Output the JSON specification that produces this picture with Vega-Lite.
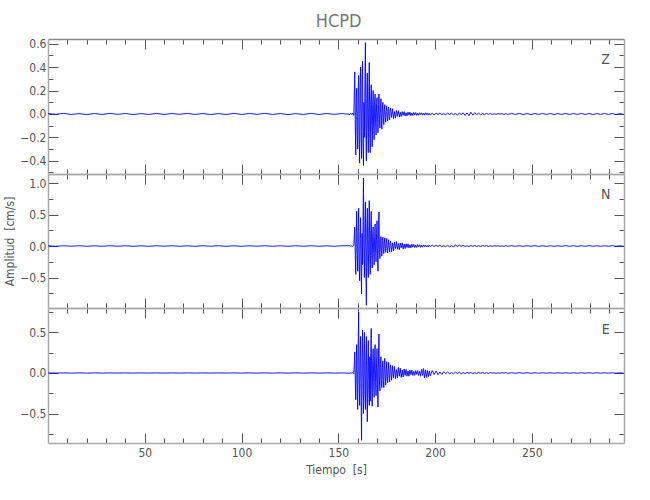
{
  "$schema": "https://vega.github.io/schema/vega-lite/v6.json",
  "background": "white",
  "padding": {"left": 3, "top": 12, "right": 5, "bottom": 5},
  "title": {"text": "HCPD", "fontSize": 18, "font": "DejaVu Sans Condensed, DejaVu Sans", "color": "#777777", "fontWeight": "normal", "offset": 7, "anchor": "middle", "dx": 24},
  "spacing": 0,
  "bounds": "flush",
  "datasets": {
    "s": [
      {"t":0,"z":0.004,"n":0.003,"e":0.001},{"t":4,"z":-0.003,"n":-0.004,"e":-0.001},{"t":8,"z":0.005,"n":0.004,"e":0.001},{"t":12,"z":-0.004,"n":-0.003,"e":-0.001},
      {"t":16,"z":0.003,"n":0.004,"e":0.001},{"t":20,"z":-0.005,"n":-0.004,"e":-0.001},{"t":24,"z":0.004,"n":0.003,"e":0.001},{"t":28,"z":-0.004,"n":-0.004,"e":-0.001},
      {"t":32,"z":0.005,"n":0.004,"e":0.001},{"t":36,"z":-0.003,"n":-0.003,"e":-0.001},{"t":40,"z":0.004,"n":0.004,"e":0.001},{"t":44,"z":-0.005,"n":-0.004,"e":-0.001},
      {"t":48,"z":0.003,"n":0.003,"e":0.001},{"t":52,"z":-0.004,"n":-0.004,"e":-0.001},{"t":56,"z":0.005,"n":0.004,"e":0.001},{"t":60,"z":-0.004,"n":-0.003,"e":-0.001},
      {"t":64,"z":0.004,"n":0.004,"e":0.001},{"t":68,"z":-0.003,"n":-0.004,"e":-0.001},{"t":72,"z":0.005,"n":0.003,"e":0.001},{"t":76,"z":-0.004,"n":-0.004,"e":-0.001},
      {"t":80,"z":0.004,"n":0.004,"e":0.001},{"t":84,"z":-0.005,"n":-0.003,"e":-0.001},{"t":88,"z":0.003,"n":0.004,"e":0.001},{"t":92,"z":-0.004,"n":-0.004,"e":-0.001},
      {"t":96,"z":0.005,"n":0.003,"e":0.001},{"t":100,"z":-0.004,"n":-0.004,"e":-0.001},{"t":104,"z":0.004,"n":0.004,"e":0.001},{"t":108,"z":-0.003,"n":-0.003,"e":-0.001},
      {"t":112,"z":0.005,"n":0.004,"e":0.001},{"t":116,"z":-0.004,"n":-0.004,"e":-0.001},{"t":120,"z":0.004,"n":0.003,"e":0.001},{"t":124,"z":-0.005,"n":-0.004,"e":-0.001},
      {"t":128,"z":0.003,"n":0.004,"e":0.001},{"t":132,"z":-0.004,"n":-0.003,"e":-0.001},{"t":136,"z":0.005,"n":0.004,"e":0.001},{"t":140,"z":-0.004,"n":-0.004,"e":-0.001},
      {"t":144,"z":0.004,"n":0.003,"e":0.001},{"t":148,"z":-0.003,"n":-0.004,"e":-0.001},{"t":152,"z":0.004,"n":0.004,"e":0.001},
      {"t":156,"z":-0.005,"n":0.004,"e":-0.003},{"t":156.5,"z":0.006,"n":-0.005,"e":0.003},{"t":157,"z":-0.005,"n":0.006,"e":-0.004},{"t":157.5,"z":0.008,"n":-0.008,"e":0.005},
      {"t":158,"z":-0.012,"n":0.012,"e":-0.008},
      {"t":158.5,"z":0.36,"n":0.30,"e":0.26},{"t":158.75,"z":-0.10,"n":-0.15,"e":-0.08},{"t":159,"z":-0.35,"n":-0.45,"e":-0.33},{"t":159.25,"z":0.12,"n":0.20,"e":0.10},
      {"t":159.5,"z":0.22,"n":0.55,"e":0.35},{"t":159.75,"z":-0.15,"n":-0.12,"e":-0.20},{"t":160,"z":-0.30,"n":-0.40,"e":-0.45},{"t":160.25,"z":0.18,"n":0.25,"e":0.30},
      {"t":160.5,"z":0.33,"n":0.60,"e":0.75},{"t":160.75,"z":-0.20,"n":-0.30,"e":-0.15},{"t":161,"z":-0.42,"n":-0.55,"e":-0.40},{"t":161.25,"z":0.25,"n":0.10,"e":0.20},
      {"t":161.5,"z":0.40,"n":0.45,"e":0.45},{"t":161.75,"z":-0.15,"n":-0.35,"e":-0.30},{"t":162,"z":-0.38,"n":-0.76,"e":-0.83},{"t":162.25,"z":0.30,"n":0.20,"e":0.25},
      {"t":162.5,"z":0.45,"n":-0.30,"e":0.53},{"t":162.75,"z":-0.25,"n":0.40,"e":-0.20},{"t":163,"z":-0.44,"n":1.08,"e":-0.50},{"t":163.25,"z":0.10,"n":-0.20,"e":0.30},
      {"t":163.5,"z":-0.20,"n":-0.50,"e":0.50},{"t":163.75,"z":0.30,"n":0.35,"e":-0.25},{"t":164,"z":0.61,"n":0.70,"e":-0.45},{"t":164.25,"z":-0.15,"n":-0.40,"e":0.20},
      {"t":164.5,"z":-0.40,"n":-0.94,"e":0.45},{"t":164.75,"z":0.20,"n":0.30,"e":-0.30},{"t":165,"z":0.35,"n":0.60,"e":-0.60},{"t":165.25,"z":-0.12,"n":-0.25,"e":0.15},
      {"t":165.5,"z":-0.33,"n":-0.50,"e":0.40},{"t":165.75,"z":0.18,"n":0.30,"e":-0.20},{"t":166,"z":0.44,"n":0.72,"e":-0.40},{"t":166.25,"z":-0.15,"n":-0.20,"e":0.20},
      {"t":166.5,"z":-0.33,"n":-0.45,"e":-0.35},{"t":166.75,"z":0.12,"n":0.25,"e":0.25},{"t":167,"z":0.25,"n":0.55,"e":0.55},{"t":167.25,"z":-0.10,"n":-0.15,"e":-0.20},
      {"t":167.5,"z":-0.28,"n":-0.35,"e":-0.41},{"t":167.75,"z":0.08,"n":0.20,"e":0.15},{"t":168,"z":0.20,"n":0.30,"e":0.30},{"t":168.25,"z":-0.12,"n":-0.12,"e":-0.10},
      {"t":168.5,"z":-0.22,"n":-0.30,"e":-0.30},{"t":168.75,"z":0.10,"n":0.15,"e":0.20},{"t":169,"z":0.17,"n":0.35,"e":0.35},{"t":169.25,"z":-0.06,"n":-0.10,"e":-0.12},
      {"t":169.5,"z":-0.18,"n":-0.25,"e":-0.28},{"t":169.75,"z":0.09,"n":0.20,"e":0.10},{"t":170,"z":0.14,"n":0.40,"e":0.30},{"t":170.25,"z":-0.05,"n":-0.15,"e":-0.20},
      {"t":170.5,"z":-0.16,"n":-0.40,"e":-0.42},{"t":170.75,"z":0.08,"n":0.25,"e":0.20},{"t":171,"z":0.17,"n":0.54,"e":0.48},{"t":171.25,"z":-0.05,"n":-0.10,"e":-0.10},
      {"t":171.5,"z":-0.12,"n":-0.20,"e":-0.22},{"t":171.75,"z":0.06,"n":0.08,"e":0.12},{"t":172,"z":0.13,"n":0.15,"e":0.20},{"t":172.25,"z":-0.04,"n":-0.07,"e":-0.08},
      {"t":172.5,"z":-0.13,"n":-0.16,"e":-0.18},{"t":172.75,"z":0.05,"n":0.09,"e":0.07},{"t":173,"z":0.10,"n":0.14,"e":0.15},{"t":173.25,"z":-0.03,"n":-0.06,"e":-0.09},
      {"t":173.5,"z":-0.09,"n":-0.12,"e":-0.18},{"t":173.75,"z":0.04,"n":0.05,"e":0.10},{"t":174,"z":0.08,"n":0.13,"e":0.18},{"t":174.25,"z":-0.03,"n":-0.04,"e":-0.06},
      {"t":174.5,"z":-0.07,"n":-0.10,"e":-0.15},{"t":174.75,"z":0.03,"n":0.06,"e":0.05},{"t":175,"z":0.07,"n":0.12,"e":0.14},{"t":175.25,"z":-0.02,"n":-0.05,"e":-0.07},
      {"t":175.5,"z":-0.06,"n":-0.11,"e":-0.12},{"t":175.75,"z":0.025,"n":0.04,"e":0.06},{"t":176,"z":0.06,"n":0.10,"e":0.13},{"t":176.25,"z":-0.02,"n":-0.03,"e":-0.05},
      {"t":176.5,"z":-0.05,"n":-0.09,"e":-0.11},{"t":176.75,"z":0.02,"n":0.04,"e":0.04},{"t":177,"z":0.05,"n":0.08,"e":0.10},
      {"t":177.5,"z":-0.03,"n":-0.09,"e":-0.09},{"t":178,"z":0.045,"n":0.05,"e":0.09},{"t":178.5,"z":-0.04,"n":-0.08,"e":-0.06},{"t":179,"z":0.02,"n":0.06,"e":0.08},
      {"t":179.5,"z":-0.035,"n":-0.04,"e":-0.07},{"t":180,"z":0.03,"n":0.07,"e":0.04},{"t":180.5,"z":-0.02,"n":-0.05,"e":-0.06},{"t":181,"z":0.028,"n":0.04,"e":0.07},
      {"t":181.5,"z":-0.025,"n":-0.06,"e":-0.04},{"t":182,"z":0.015,"n":0.045,"e":0.06},{"t":182.5,"z":-0.022,"n":-0.03,"e":-0.055},{"t":183,"z":0.02,"n":0.05,"e":0.035},
      {"t":183.5,"z":-0.012,"n":-0.045,"e":-0.05},{"t":184,"z":0.02,"n":0.03,"e":0.05},{"t":184.5,"z":-0.018,"n":-0.04,"e":-0.03},{"t":185,"z":0.01,"n":0.035,"e":0.045},
      {"t":185.5,"z":-0.016,"n":-0.025,"e":-0.04},{"t":186,"z":0.016,"n":0.035,"e":0.025},{"t":186.5,"z":-0.01,"n":-0.03,"e":-0.04},{"t":187,"z":0.015,"n":0.02,"e":0.035},
      {"t":187.5,"z":-0.014,"n":-0.03,"e":-0.02},{"t":188,"z":0.008,"n":0.028,"e":0.035},{"t":188.5,"z":-0.013,"n":-0.018,"e":-0.03},{"t":189,"z":0.013,"n":0.025,"e":0.02},
      {"t":189.5,"z":-0.008,"n":-0.025,"e":-0.03},{"t":190,"z":0.012,"n":0.015,"e":0.03},{"t":190.5,"z":-0.012,"n":-0.022,"e":-0.018},{"t":191,"z":0.007,"n":0.022,"e":0.03},
      {"t":191.5,"z":-0.011,"n":-0.014,"e":-0.03},{"t":192,"z":0.011,"n":0.02,"e":0.02},{"t":192.5,"z":-0.006,"n":-0.02,"e":-0.04},{"t":193,"z":0.01,"n":0.012,"e":0.045},
      {"t":193.5,"z":-0.01,"n":-0.018,"e":-0.03},{"t":194,"z":0.006,"n":0.018,"e":0.055},{"t":194.5,"z":-0.01,"n":-0.01,"e":-0.06},{"t":195,"z":0.01,"n":0.016,"e":0.04},
      {"t":195.5,"z":-0.006,"n":-0.016,"e":-0.055},{"t":196,"z":0.009,"n":0.01,"e":0.03},{"t":196.5,"z":-0.009,"n":-0.015,"e":-0.045},{"t":197,"z":0.005,"n":0.015,"e":0.025},
      {"t":197.5,"z":-0.009,"n":-0.009,"e":-0.035},
      {"t":198.5,"z":0.006,"n":0.014,"e":0.03},{"t":199.5,"z":-0.009,"n":-0.009,"e":-0.018},{"t":200.5,"z":0.008,"n":0.013,"e":0.025},{"t":201.5,"z":-0.005,"n":-0.008,"e":-0.022},
      {"t":202.5,"z":0.008,"n":0.013,"e":0.012},{"t":203.5,"z":-0.007,"n":-0.012,"e":-0.018},{"t":204.5,"z":0.004,"n":0.007,"e":0.016},{"t":205.5,"z":-0.007,"n":-0.012,"e":-0.009},
      {"t":206.5,"z":0.007,"n":0.013,"e":0.014},{"t":207.5,"z":-0.005,"n":-0.015,"e":-0.013},{"t":208.5,"z":0.007,"n":0.011,"e":0.008},{"t":209.5,"z":-0.007,"n":-0.02,"e":-0.012},
      {"t":210.5,"z":0.004,"n":0.022,"e":0.011},{"t":211.5,"z":-0.008,"n":-0.012,"e":-0.007},{"t":212.5,"z":0.008,"n":0.015,"e":0.01},{"t":213.5,"z":-0.005,"n":-0.008,"e":-0.01},
      {"t":214.5,"z":0.01,"n":0.011,"e":0.006},{"t":215.5,"z":-0.012,"n":-0.01,"e":-0.009},{"t":216.5,"z":0.009,"n":0.006,"e":0.009},{"t":217.5,"z":-0.015,"n":-0.01,"e":-0.006},
      {"t":218.5,"z":0.015,"n":0.009,"e":0.008},{"t":219.5,"z":-0.01,"n":-0.005,"e":-0.008},{"t":220.5,"z":0.011,"n":0.009,"e":0.005},{"t":221.5,"z":-0.006,"n":-0.008,"e":-0.007},
      {"t":222.5,"z":0.008,"n":0.005,"e":0.007},{"t":223.5,"z":-0.007,"n":-0.008,"e":-0.004},{"t":224.5,"z":0.004,"n":0.008,"e":0.007},{"t":225.5,"z":-0.006,"n":-0.005,"e":-0.006},
      {"t":226.5,"z":0.006,"n":0.007,"e":0.004},{"t":227.5,"z":-0.004,"n":-0.007,"e":-0.006},{"t":228.5,"z":0.006,"n":0.004,"e":0.006},{"t":229.5,"z":-0.006,"n":-0.007,"e":-0.004},
      {"t":230.5,"z":0.004,"n":0.006,"e":0.005},{"t":231.5,"z":-0.005,"n":-0.004,"e":-0.005},{"t":232.5,"z":0.005,"n":0.006,"e":0.003},{"t":233.5,"z":-0.003,"n":-0.006,"e":-0.005},
      {"t":234.5,"z":0.005,"n":0.004,"e":0.005},{"t":235.5,"z":-0.005,"n":-0.006,"e":-0.003},{"t":236.5,"z":0.003,"n":0.006,"e":0.005},{"t":237.5,"z":-0.005,"n":-0.004,"e":-0.004},
      {"t":239.5,"z":0.005,"n":0.005,"e":0.003},{"t":241.5,"z":-0.004,"n":-0.005,"e":-0.003},{"t":243.5,"z":0.005,"n":0.004,"e":0.003},{"t":245.5,"z":-0.005,"n":-0.005,"e":-0.003},
      {"t":247.5,"z":0.004,"n":0.005,"e":0.003},{"t":249.5,"z":-0.005,"n":-0.004,"e":-0.003},{"t":251.5,"z":0.004,"n":0.005,"e":0.002},{"t":253.5,"z":-0.004,"n":-0.005,"e":-0.002},
      {"t":255.5,"z":0.005,"n":0.004,"e":0.002},{"t":257.5,"z":-0.004,"n":-0.005,"e":-0.002},{"t":259.5,"z":0.004,"n":0.004,"e":0.002},{"t":261.5,"z":-0.005,"n":-0.005,"e":-0.002},
      {"t":263.5,"z":0.004,"n":0.004,"e":0.002},{"t":265.5,"z":-0.004,"n":-0.004,"e":-0.002},{"t":267.5,"z":0.005,"n":0.005,"e":0.002},{"t":269.5,"z":-0.004,"n":-0.004,"e":-0.002},
      {"t":271.5,"z":0.004,"n":0.004,"e":0.002},{"t":273.5,"z":-0.004,"n":-0.005,"e":-0.002},{"t":275.5,"z":0.005,"n":0.004,"e":0.002},{"t":277.5,"z":-0.004,"n":-0.004,"e":-0.002},
      {"t":279.5,"z":0.004,"n":0.005,"e":0.002},{"t":281.5,"z":-0.005,"n":-0.004,"e":-0.002},{"t":283.5,"z":0.004,"n":0.004,"e":0.002},{"t":285.5,"z":-0.004,"n":-0.005,"e":-0.002},
      {"t":287.5,"z":0.005,"n":0.004,"e":0.002},{"t":289.5,"z":-0.004,"n":-0.004,"e":-0.002},{"t":291.5,"z":0.004,"n":0.005,"e":0.002},{"t":293.5,"z":-0.005,"n":-0.004,"e":-0.002},
      {"t":295.5,"z":0.004,"n":0.004,"e":0.002},{"t":297.5,"z":-0.004,"n":-0.005,"e":-0.002}
    ]
  },
  "vconcat": [
    {
      "width": 576, "height": 135,
      "layer": [
        {
          "data": {"name": "s"},
          "mark": {"type": "line", "stroke": "#0000ff", "strokeWidth": 0.9},
          "encoding": {
            "x": {"field": "t", "type": "quantitative", "scale": {"domain": [0, 297.6], "nice": false, "zero": false},
              "axis": {"orient": "bottom", "values": [10,20,30,40,50,60,70,80,90,100,110,120,130,140,150,160,170,180,190,200,210,220,230,240,250,260,270,280,290], "labels": false, "title": null,
                "encoding": {"ticks": {"y2": {"condition": {"test": "datum.value % 50 === 0", "value": -10}, "value": -5}}}}},
            "y": {"field": "z", "type": "quantitative", "scale": {"domain": [-0.513, 0.641], "nice": false, "zero": false},
              "axis": {"orient": "left", "values": [-0.5,-0.4,-0.3,-0.2,-0.1,0,0.1,0.2,0.3,0.4,0.5,0.6], "format": ".1f", "title": null,
                "labelExpr": "abs(round(datum.value*100)) % 20 === 0 ? datum.label : ''",
                "encoding": {"ticks": {"x2": {"condition": {"test": "abs(round(datum.value*100)) % 20 === 0", "value": 10}, "value": 5}}}}}
          }
        },
        {
          "data": {"values": [{"t": 288.1, "v": 0.46, "c": "Z"}]},
          "mark": {"type": "text", "fontSize": 14, "color": "#555555", "baseline": "middle", "align": "center"},
          "encoding": {
            "x": {"field": "t", "type": "quantitative", "scale": {"domain": [0, 297.6], "nice": false, "zero": false},
              "axis": {"orient": "top", "values": [10,20,30,40,50,60,70,80,90,100,110,120,130,140,150,160,170,180,190,200,210,220,230,240,250,260,270,280,290], "labels": false, "title": null, "domainColor": "#888888",
                "encoding": {"ticks": {"y2": {"condition": {"test": "datum.value % 50 === 0", "value": 10}, "value": 5}}}}},
            "y": {"field": "v", "type": "quantitative", "scale": {"domain": [-0.513, 0.641], "nice": false, "zero": false},
              "axis": {"orient": "right", "values": [-0.5,-0.4,-0.3,-0.2,-0.1,0,0.1,0.2,0.3,0.4,0.5,0.6], "labels": false, "title": null,
                "encoding": {"ticks": {"x2": {"condition": {"test": "abs(round(datum.value*100)) % 20 === 0", "value": -10}, "value": -5}}}}},
            "text": {"field": "c"}
          }
        }
      ],
      "resolve": {"scale": {"x": "independent", "y": "independent"}, "axis": {"x": "independent", "y": "independent"}}
    },
    {
      "width": 576, "height": 134,
      "layer": [
        {
          "data": {"name": "s"},
          "mark": {"type": "line", "stroke": "#0000ff", "strokeWidth": 0.9},
          "encoding": {
            "x": {"field": "t", "type": "quantitative", "scale": {"domain": [0, 297.6], "nice": false, "zero": false},
              "axis": {"orient": "bottom", "values": [10,20,30,40,50,60,70,80,90,100,110,120,130,140,150,160,170,180,190,200,210,220,230,240,250,260,270,280,290], "labels": false, "title": null,
                "encoding": {"ticks": {"y2": {"condition": {"test": "datum.value % 50 === 0", "value": -10}, "value": -5}}}}},
            "y": {"field": "n", "type": "quantitative", "scale": {"domain": [-0.984, 1.143], "nice": false, "zero": false},
              "axis": {"orient": "left", "values": [-0.75,-0.5,-0.25,0,0.25,0.5,0.75,1.0], "format": ".1f", "title": "Amplitud\u00a0 [cm/s]", "titlePadding": 3,
                "labelExpr": "abs(round(datum.value*100)) % 50 === 0 ? datum.label : ''",
                "encoding": {"ticks": {"x2": {"condition": {"test": "abs(round(datum.value*100)) % 50 === 0", "value": 10}, "value": 5}}}}}
          }
        },
        {
          "data": {"values": [{"t": 288.1, "v": 0.81, "c": "N"}]},
          "mark": {"type": "text", "fontSize": 14, "color": "#555555", "baseline": "middle", "align": "center"},
          "encoding": {
            "x": {"field": "t", "type": "quantitative", "scale": {"domain": [0, 297.6], "nice": false, "zero": false},
              "axis": {"orient": "top", "values": [10,20,30,40,50,60,70,80,90,100,110,120,130,140,150,160,170,180,190,200,210,220,230,240,250,260,270,280,290], "labels": false, "title": null,
                "encoding": {"ticks": {"y2": {"condition": {"test": "datum.value % 50 === 0", "value": 10}, "value": 5}}}}},
            "y": {"field": "v", "type": "quantitative", "scale": {"domain": [-0.984, 1.143], "nice": false, "zero": false},
              "axis": {"orient": "right", "values": [-0.75,-0.5,-0.25,0,0.25,0.5,0.75,1.0], "labels": false, "title": null,
                "encoding": {"ticks": {"x2": {"condition": {"test": "abs(round(datum.value*100)) % 50 === 0", "value": -10}, "value": -5}}}}},
            "text": {"field": "c"}
          }
        }
      ],
      "resolve": {"scale": {"x": "independent", "y": "independent"}, "axis": {"x": "independent", "y": "independent"}}
    },
    {
      "width": 576, "height": 135,
      "layer": [
        {
          "data": {"name": "s"},
          "mark": {"type": "line", "stroke": "#0000ff", "strokeWidth": 0.9},
          "encoding": {
            "x": {"field": "t", "type": "quantitative", "scale": {"domain": [0, 297.6], "nice": false, "zero": false},
              "axis": {"orient": "bottom", "values": [10,20,30,40,50,60,70,80,90,100,110,120,130,140,150,160,170,180,190,200,210,220,230,240,250,260,270,280,290], "format": "d", "labelPadding": 4,
                "labelExpr": "datum.value % 50 === 0 ? datum.label : ''", "title": "Tiempo\u00a0 [s]", "titlePadding": 6,
                "encoding": {"ticks": {"y2": {"condition": {"test": "datum.value % 50 === 0", "value": -10}, "value": -5}}}}},
            "y": {"field": "e", "type": "quantitative", "scale": {"domain": [-0.864, 0.802], "nice": false, "zero": false},
              "axis": {"orient": "left", "values": [-0.75,-0.5,-0.25,0,0.25,0.5,0.75], "format": ".1f", "title": null,
                "labelExpr": "abs(round(datum.value*100)) % 50 === 0 ? datum.label : ''",
                "encoding": {"ticks": {"x2": {"condition": {"test": "abs(round(datum.value*100)) % 50 === 0", "value": 10}, "value": 5}}}}}
          }
        },
        {
          "data": {"values": [{"t": 288.1, "v": 0.53, "c": "E"}]},
          "mark": {"type": "text", "fontSize": 14, "color": "#555555", "baseline": "middle", "align": "center"},
          "encoding": {
            "x": {"field": "t", "type": "quantitative", "scale": {"domain": [0, 297.6], "nice": false, "zero": false},
              "axis": {"orient": "top", "values": [10,20,30,40,50,60,70,80,90,100,110,120,130,140,150,160,170,180,190,200,210,220,230,240,250,260,270,280,290], "labels": false, "title": null,
                "encoding": {"ticks": {"y2": {"condition": {"test": "datum.value % 50 === 0", "value": 10}, "value": 5}}}}},
            "y": {"field": "v", "type": "quantitative", "scale": {"domain": [-0.864, 0.802], "nice": false, "zero": false},
              "axis": {"orient": "right", "values": [-0.75,-0.5,-0.25,0,0.25,0.5,0.75], "labels": false, "title": null,
                "encoding": {"ticks": {"x2": {"condition": {"test": "abs(round(datum.value*100)) % 50 === 0", "value": -10}, "value": -5}}}}},
            "text": {"field": "c"}
          }
        }
      ],
      "resolve": {"scale": {"x": "independent", "y": "independent"}, "axis": {"x": "independent", "y": "independent"}}
    }
  ],
  "config": {
    "view": {"stroke": null},
    "font": "DejaVu Sans Condensed, DejaVu Sans",
    "axis": {
      "domainColor": "#aaaaaa", "domainWidth": 1.5, "tickColor": "#555555", "tickWidth": 1, "tickSize": 0,
      "labelColor": "#555555", "labelFontSize": 12, "labelPadding": 2, "labelOverlap": false, "labelFlush": false,
      "titleColor": "#555555", "titleFontSize": 12, "titleFontWeight": "normal", "grid": false
    }
  }
}
